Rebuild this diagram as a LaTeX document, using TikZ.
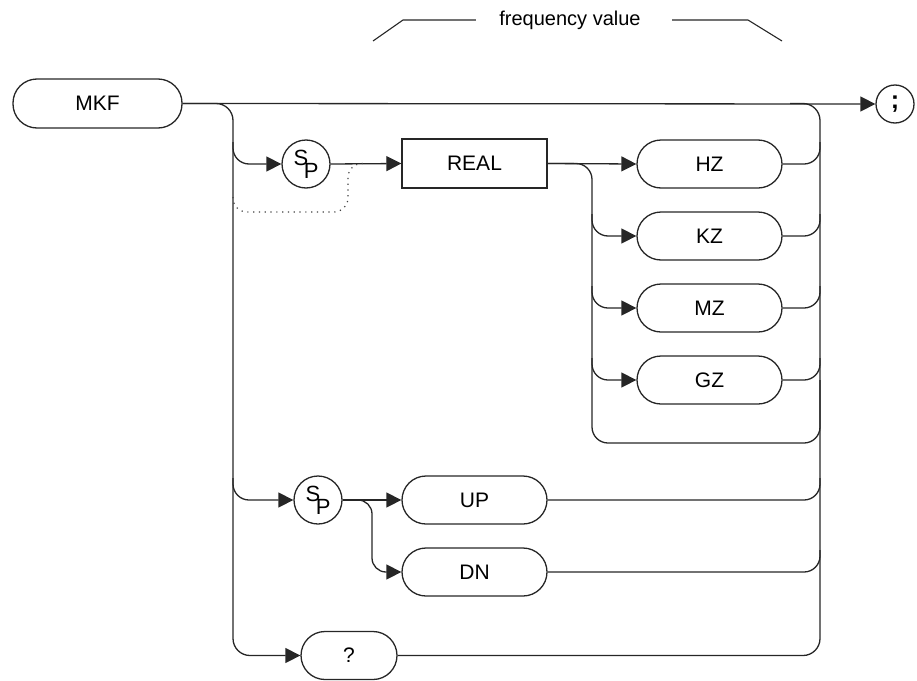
\documentclass[tikz,border=0pt]{standalone}
\usepackage{fontspec}
\setmainfont{Liberation Sans}
\usetikzlibrary{arrows.meta,calc}
\newcommand\spsym{\raisebox{6.5pt}{S}\kern-4.5pt\raisebox{-6.5pt}{P}\hspace{5pt}}
\begin{document}
\begin{tikzpicture}[x=1pt,y=-1pt,
  every node/.style={font=\fontsize{21}{25}\selectfont},
  conn/.style={draw=black!85, line width=1.3pt},
  arr/.style={-{Triangle[length=15pt,width=15pt]}},
  dotline/.style={draw=black!75, line width=1.2pt, dash pattern=on 1.2pt off 4.6pt},
  term/.style={draw=black!85, line width=1.3pt, rectangle, rounded corners=24pt,
    minimum width=145pt, minimum height=48pt, inner sep=0pt},
  kwbox/.style={draw=black!85, line width=1.3pt, rectangle,
    minimum width=145pt, minimum height=49pt, inner sep=0pt},
  spc/.style={draw=black!85, line width=1.3pt, circle, minimum size=48pt,
    inner sep=0pt, font=\fontsize{22}{24}\selectfont},
  endc/.style={draw=black!85, line width=1.3pt, circle, minimum size=38pt,
    inner sep=0pt, font=\fontsize{25}{27}\selectfont\bfseries}
]
\useasboundingbox (0,0) rectangle (917,680);

% bus coordinates
\coordinate (L) at (233,0);
\coordinate (M) at (592,0);
\coordinate (B) at (372,0);
\coordinate (R) at (820,0);
\coordinate (lp) at (0,443);

% nodes
\node[term, minimum width=169pt, minimum height=49pt] (mkf) at (97.5,103.5) {MKF};
\node[endc] (semi) at (895,104) {;};
\node[spc] (sp1) at (306,164) {\spsym};
\node[kwbox] (real) at (474.5,163.5) {REAL};
\node[term] (hz) at (709.5,164) {HZ};
\node[term] (kz) at (709.5,236) {KZ};
\node[term] (mz) at (709.5,308) {MZ};
\node[term] (gz) at (709.5,380) {GZ};
\node[spc] (sp2) at (318,500) {\spsym};
\node[term] (up) at (474.5,500) {UP};
\node[term] (dn) at (474.5,572) {DN};
\node[term, minimum width=96pt] (q) at (349,655.5) {?};
\node[font=\fontsize{20}{24}\selectfont] (fv) at (570,20) {frequency value};

% frequency value bracket
\draw[conn, line width=1.1pt] (373,41) -- (403,20) -- ($(fv.west)+(-20,0)$);
\draw[conn, line width=1.1pt] ($(fv.east)+(28,0)$) -- (748,20) -- (782,41);

% main line
\draw[conn, arr] (mkf.east) -- (semi.west);

% left bus down to ?
\draw[conn, arr, rounded corners=17pt] (mkf.east) -| (L |- q.west) -- (q.west);
% right bus from ? up to main line
\draw[conn, rounded corners=17pt] ($(R |- mkf.east)+(-30,0)$) -| (R |- q.east) -- (q.east);

% SP branch to REAL
\draw[conn, arr, rounded corners=16pt] ($(L |- sp1)+(0,-22)$) |- (sp1.west);
\draw[conn, arr] (sp1.east) -- (real.west);
\draw[dotline, rounded corners=14pt] ($(L |- sp1)+(0,33)$) |- (348,212) |- ($(real.west)+(-36,0)$);

% REAL to units
\draw[conn, arr] (real.east) -- (hz.west);
\draw[conn, rounded corners=16pt] (real.east) -| (M |- lp) -| ($(R |- gz)$);
\draw[conn, arr, rounded corners=16pt] ($(M |- kz)+(0,-22)$) |- (kz.west);
\draw[conn, arr, rounded corners=16pt] ($(M |- mz)+(0,-22)$) |- (mz.west);
\draw[conn, arr, rounded corners=16pt] ($(M |- gz)+(0,-22)$) |- (gz.west);

% units to right bus
\draw[conn, rounded corners=16pt] (hz.east) -| ($(R |- hz)+(0,-22)$);
\draw[conn, rounded corners=16pt] (kz.east) -| ($(R |- kz)+(0,-22)$);
\draw[conn, rounded corners=16pt] (mz.east) -| ($(R |- mz)+(0,-22)$);
\draw[conn, rounded corners=16pt] (gz.east) -| ($(R |- gz)+(0,-22)$);

% SP branch to UP / DN
\draw[conn, arr, rounded corners=16pt] ($(L |- sp2)+(0,-22)$) |- (sp2.west);
\draw[conn, arr] (sp2.east) -- (up.west);
\draw[conn, arr, rounded corners=14pt] (sp2.east) -| (B |- dn.west) -- (dn.west);
\draw[conn, rounded corners=16pt] (up.east) -| ($(R |- up)+(0,-22)$);
\draw[conn, rounded corners=16pt] (dn.east) -| ($(R |- dn)+(0,-22)$);
\end{tikzpicture}
\end{document}
